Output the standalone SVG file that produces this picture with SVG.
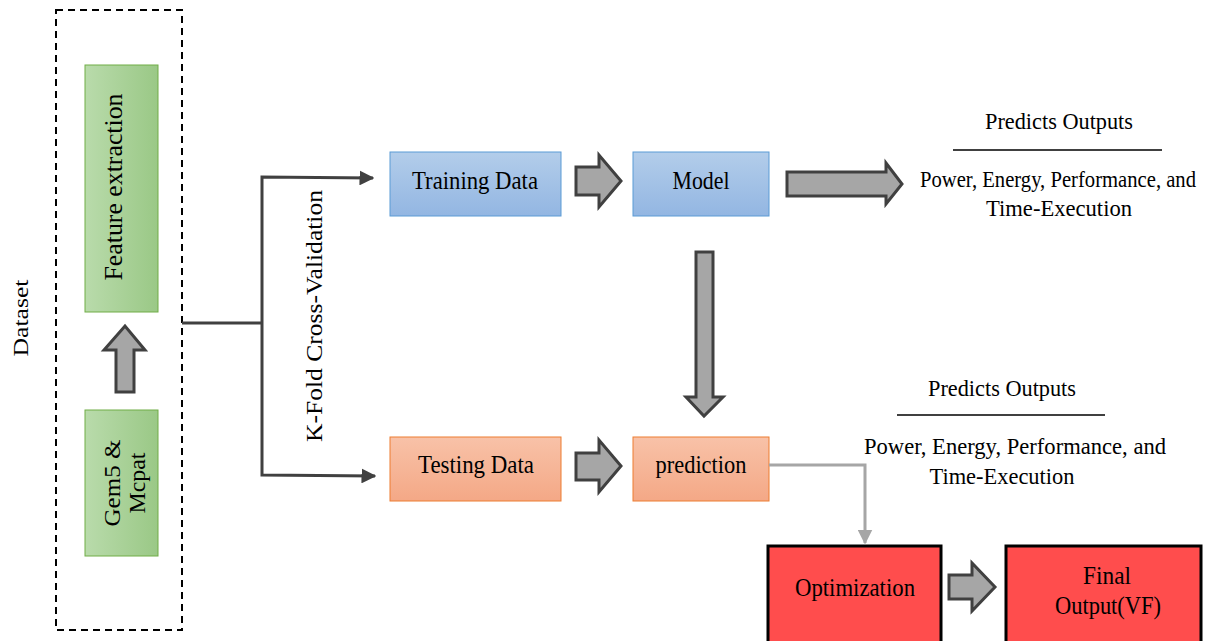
<svg xmlns="http://www.w3.org/2000/svg" width="1232" height="641" viewBox="0 0 1232 641">
  <style>
    text { font-family: "Liberation Serif", "Times New Roman", serif; fill: #000; text-anchor: middle; }
    .f22 { font-size: 22px; }
    .f23 { font-size: 23px; }
    .f24 { font-size: 24px; }
    .f25 { font-size: 25px; }
    .blk { fill: #a6a6a6; stroke: #404040; stroke-width: 3; stroke-linejoin: miter; }
    .conn { fill: none; stroke: #404040; stroke-width: 3; }
  </style>
  <defs>
    <linearGradient id="gGreen" x1="0" y1="0" x2="1" y2="0">
      <stop offset="0" stop-color="#b9dbab"/>
      <stop offset="1" stop-color="#9ac886"/>
    </linearGradient>
    <linearGradient id="gBlue" x1="0" y1="0" x2="0" y2="1">
      <stop offset="0" stop-color="#b3cdea"/>
      <stop offset="1" stop-color="#93b6e2"/>
    </linearGradient>
    <linearGradient id="gOrange" x1="0" y1="0" x2="0" y2="1">
      <stop offset="0" stop-color="#f8c2a8"/>
      <stop offset="1" stop-color="#f4a886"/>
    </linearGradient>
    <marker id="ahDark" viewBox="0 0 10 10" refX="9" refY="5" markerWidth="5" markerHeight="5" orient="auto" markerUnits="strokeWidth">
      <path d="M0,0 L10,5 L0,10 Z" fill="#404040"/>
    </marker>
    <marker id="ahGray" viewBox="0 0 10 10" refX="9" refY="5" markerWidth="5" markerHeight="5" orient="auto" markerUnits="strokeWidth">
      <path d="M0,0 L10,5 L0,10 Z" fill="#a6a6a6"/>
    </marker>
  </defs>

  <rect width="1232" height="641" fill="#fff"/>

  <!-- dataset container -->
  <g id="dataset">
    <rect x="56" y="10" width="126" height="620" fill="none" stroke="#000" stroke-width="2" stroke-dasharray="7,5"/>
    <text class="f22" transform="translate(28,318) rotate(-90)" textLength="77" lengthAdjust="spacingAndGlyphs">Dataset</text>
  </g>

  <g id="feature-extraction">
    <rect x="85" y="65" width="73" height="247" fill="url(#gGreen)" stroke="#70ad47" stroke-width="1"/>
    <text class="f25" transform="translate(122,187) rotate(-90)" textLength="187" lengthAdjust="spacingAndGlyphs">Feature extraction</text>
  </g>

  <g id="gem5-mcpat">
    <rect x="85" y="410" width="73" height="146" fill="url(#gGreen)" stroke="#70ad47" stroke-width="1"/>
    <text class="f24" transform="translate(120,483) rotate(-90)" textLength="87" lengthAdjust="spacingAndGlyphs">Gem5 &amp;</text>
    <text class="f24" transform="translate(145,483) rotate(-90)" textLength="61" lengthAdjust="spacingAndGlyphs">Mcpat</text>
  </g>

  <g id="training-data">
    <rect x="390" y="152" width="171" height="64" fill="url(#gBlue)" stroke="#5b9bd5" stroke-width="1"/>
    <text class="f25" x="475" y="189" textLength="126" lengthAdjust="spacingAndGlyphs">Training Data</text>
  </g>

  <g id="testing-data">
    <rect x="390" y="437" width="171" height="64" fill="url(#gOrange)" stroke="#ed7d31" stroke-width="1"/>
    <text class="f25" x="476" y="473" textLength="116" lengthAdjust="spacingAndGlyphs">Testing Data</text>
  </g>

  <g id="model">
    <rect x="633" y="152" width="136" height="64" fill="url(#gBlue)" stroke="#5b9bd5" stroke-width="1"/>
    <text class="f25" x="701" y="189" textLength="57" lengthAdjust="spacingAndGlyphs">Model</text>
  </g>

  <g id="prediction">
    <rect x="633" y="437" width="136" height="64" fill="url(#gOrange)" stroke="#ed7d31" stroke-width="1"/>
    <text class="f25" x="701" y="473" textLength="91" lengthAdjust="spacingAndGlyphs">prediction</text>
  </g>

  <g id="optimization">
    <rect x="768" y="546" width="173" height="100" fill="#ff4d4d" stroke="#000" stroke-width="3"/>
    <text class="f25" x="855" y="596" textLength="120" lengthAdjust="spacingAndGlyphs">Optimization</text>
  </g>

  <g id="final-output">
    <rect x="1006" y="546" width="195" height="100" fill="#ff4d4d" stroke="#000" stroke-width="3"/>
    <text class="f25" x="1107" y="584" textLength="48" lengthAdjust="spacingAndGlyphs">Final</text>
    <text class="f25" x="1108" y="614" textLength="106" lengthAdjust="spacingAndGlyphs">Output(VF)</text>
  </g>

  <g id="outputs-top">
    <text class="f23" x="1059" y="129" textLength="148" lengthAdjust="spacingAndGlyphs">Predicts Outputs</text>
    <line x1="953" y1="150" x2="1162" y2="150" stroke="#000" stroke-width="1.5"/>
    <text class="f23" x="1058" y="187" textLength="276" lengthAdjust="spacingAndGlyphs">Power, Energy, Performance, and</text>
    <text class="f23" x="1059" y="216" textLength="146" lengthAdjust="spacingAndGlyphs">Time-Execution</text>
  </g>

  <g id="outputs-bottom">
    <text class="f23" x="1002" y="396" textLength="148" lengthAdjust="spacingAndGlyphs">Predicts Outputs</text>
    <line x1="897" y1="415" x2="1105" y2="415" stroke="#000" stroke-width="1.5"/>
    <text class="f23" x="1015" y="454" textLength="302" lengthAdjust="spacingAndGlyphs">Power, Energy, Performance, and</text>
    <text class="f23" x="1002" y="484" textLength="145" lengthAdjust="spacingAndGlyphs">Time-Execution</text>
  </g>

  <!-- connectors -->
  <g id="connectors">
    <!-- K-fold split -->
    <path class="conn" d="M182,323 L262,323"/>
    <path class="conn" d="M262,323 L262,177 L373,178" marker-end="url(#ahDark)"/>
    <path class="conn" d="M262,323 L262,475 L375,476" marker-end="url(#ahDark)"/>
    <text class="f23" transform="translate(322,316) rotate(-90)" textLength="252" lengthAdjust="spacingAndGlyphs">K-Fold  Cross-Validation</text>

    <!-- gray elbow from prediction to optimization -->
    <path d="M769,465 L865,465 L865,543" fill="none" stroke="#a6a6a6" stroke-width="3" marker-end="url(#ahGray)"/>

    <!-- block arrows -->
    <path class="blk" d="M116,392 L116,350 L104,350 L125,326 L145,350 L134,350 L134,392 Z"/>
    <path class="blk" d="M576,167 L599,167 L599,155 L621,181 L599,207 L599,195 L576,195 Z"/>
    <path class="blk" d="M787,172 L886,172 L886,163 L902,184 L886,204 L886,196 L787,196 Z"/>
    <path class="blk" d="M696,252 L713,252 L713,397 L723,397 L704,416 L686,397 L696,397 Z"/>
    <path class="blk" d="M576,453 L599,453 L599,440 L621,466 L599,492 L599,480 L576,480 Z"/>
    <path class="blk" d="M949,575 L972,575 L972,563 L995,587 L972,611 L972,599 L949,599 Z"/>
  </g>
</svg>
